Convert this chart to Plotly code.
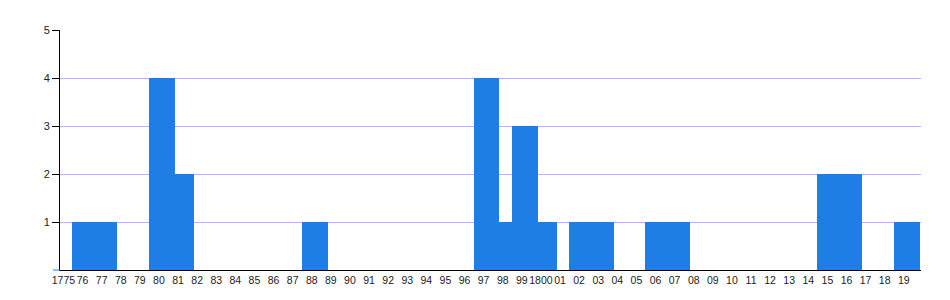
import plotly.graph_objects as go

years = [1776, 1777, 1780, 1781, 1788, 1797, 1798, 1799, 1800, 1802, 1803,
         1806, 1807, 1815, 1816, 1819]
counts = [1, 1, 4, 2, 1, 4, 1, 3, 1, 1, 1, 1, 1, 2, 2, 1]

tick_years = list(range(1775, 1820))
tick_labels = [str(y) if y in (1775, 1800) else f"{y % 100:02d}" for y in tick_years]

BAR = "#1f7ee6"

fig = go.Figure(go.Bar(
    x=years, y=counts, width=1.36, offset=-0.53,
    marker=dict(color=BAR, line=dict(width=0)),
    hoverinfo="x+y",
))

fig.update_layout(
    width=950, height=300,
    margin=dict(l=60, r=29, t=30, b=30),
    paper_bgcolor="white", plot_bgcolor="white",
    showlegend=False, barmode="overlay", bargap=0,
    font=dict(family="Liberation Sans, Arial, sans-serif", size=11, color="#222"),
    xaxis=dict(
        range=[1774.82, 1819.9],
        tickmode="array", tickvals=tick_years, ticktext=tick_labels,
        tickangle=0, showgrid=False, zeroline=False,
        showline=True, linecolor="black", linewidth=1,
        ticks="", tickfont=dict(size=10.5),
    ),
    yaxis=dict(
        range=[0, 5], tickmode="array", tickvals=[1, 2, 3, 4, 5],
        showgrid=True, gridcolor="#bdb6ec", gridwidth=1,
        zeroline=False, showline=True, linecolor="black", linewidth=1,
        ticks="outside", ticklen=7, tickcolor="black",
        tickfont=dict(size=11),
    ),
    shapes=[dict(type="line", xref="paper", yref="paper",
                 x0=-7 / 861, x1=0, y0=0, y1=0,
                 line=dict(color=BAR, width=1))],
)

fig.write_html("out.html")
